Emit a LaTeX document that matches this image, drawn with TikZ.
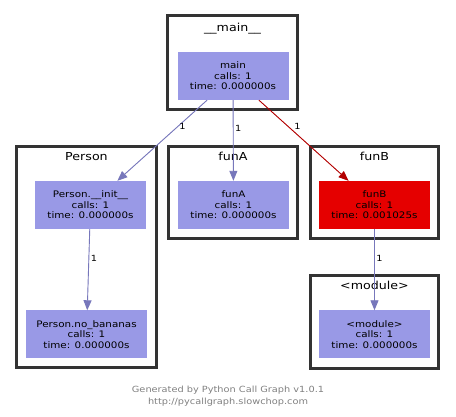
\documentclass[tikz,border=0pt]{standalone}
\usepackage{fontspec}
\newfontfamily\graphfont{DejaVu Sans}[FakeStretch=1.15]
\usepackage{tikz}
\usetikzlibrary{positioning,arrows.meta}
\definecolor{fnfill}{HTML}{9999E6}
\definecolor{hotfill}{HTML}{E50000}
\definecolor{calledge}{HTML}{7777BB}
\definecolor{hotedge}{HTML}{B30000}
\definecolor{clusterline}{HTML}{333333}
\definecolor{footgray}{HTML}{808080}

\begin{document}
\begin{tikzpicture}[x=1pt, y=-1pt,
    cluster/.style={draw=clusterline, line width=3pt, minimum width=128pt,
                    minimum height=92pt, inner sep=0pt},
    func/.style={fill=fnfill, minimum width=111pt, minimum height=48pt, inner sep=0pt,
                 align=center, font=\graphfont\fontsize{9}{10.5}\selectfont},
    title/.style={font=\graphfont\fontsize{11}{13}\selectfont, inner sep=0pt,
                  text height=8pt, text depth=2pt},
    call/.style={-{Triangle[length=10pt, width=8pt]}, draw=calledge, fill=calledge, line width=0.9pt},
    hot/.style={call, draw=hotedge, fill=hotedge},
    count/.style={font=\graphfont\fontsize{8.5}{10}\selectfont, inner sep=1.5pt, text=black},
    foot/.style={font=\graphfont\fontsize{8.5}{10}\selectfont, text=footgray, inner sep=0pt}
  ]
    \useasboundingbox (0,0) rectangle (456,417);

    \node[cluster, minimum width=130pt, minimum height=94pt] (mainclus) at (232.5,62.5) {};
    \node[cluster, minimum width=140pt, minimum height=221pt] (personclus) at (86.5,257) {};
    \node[cluster, minimum width=129pt] (funAclus) at (233,192.5) {};
    \node[cluster] (funBclus) at (374.5,192.5) {};
    \node[cluster, minimum height=93pt] (moduleclus) at (374.5,322) {};

    \node[title, below=9.5pt of mainclus.north] (maintitle) {\_\_main\_\_};
    \node[title, below=7pt of personclus.north] (persontitle) {Person};
    \node[title, below=7pt of funAclus.north] (funAtitle) {funA};
    \node[title, below=7pt of funBclus.north] (funBtitle) {funB};
    \node[title, below=7pt of moduleclus.north] (moduletitle) {<module>};

    \node[func] (main) at (233,76) {main\\calls: 1\\time: 0.000000s};
    \node[func] (init) at (90.5,205) {Person.\_\_init\_\_\\calls: 1\\time: 0.000000s};
    \node[func, minimum width=121pt] (bananas) at (86.5,334.5) {Person.no\_bananas\\calls: 1\\time: 0.000000s};
    \node[func] (funA) at (233.5,205) {funA\\calls: 1\\time: 0.000000s};
    \node[func, fill=hotfill] (funB) at (374.5,205) {funB\\calls: 1\\time: 0.001025s};
    \node[func] (module) at (374.5,334.5) {<module>\\calls: 1\\time: 0.000000s};

    \draw[call] (main.-137) -- node[count, pos=0.33, right] {1} (init.42);
    \draw[call] (main) -- node[count, pos=0.35, right] {1} (funA);
    \draw[hot] (main.-43) -- node[count, pos=0.33, right=4pt] {1} (funB.137);
    \draw[call] (init) -- node[count, pos=0.36, right] {1} (bananas);
    \draw[call] (funB) -- node[count, pos=0.36, right] {1} (module);

    \node[foot] (footA) at (228,390) {Generated by Python Call Graph v1.0.1};
    \node[foot] (footB) at (228,402) {http://pycallgraph.slowchop.com};
  \end{tikzpicture}
\end{document}
